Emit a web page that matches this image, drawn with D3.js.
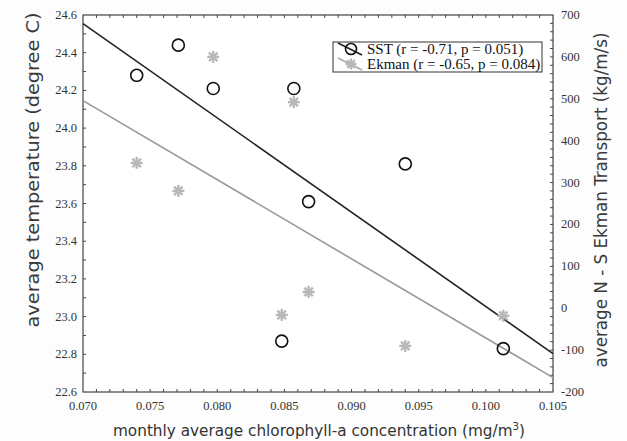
<!DOCTYPE html>
<html><head><meta charset="utf-8">
<script src="https://cdn.jsdelivr.net/npm/d3@7"></script>
<style>body{margin:0;background:#fff}svg{display:block}</style>
</head><body>
<svg id="chart" width="627" height="441"></svg>
<script>
// Data
const chl = [0.0740, 0.0771, 0.0797, 0.0857, 0.0848, 0.0868, 0.0940, 0.1013];
const sst = [24.28, 24.44, 24.21, 24.21, 22.87, 23.61, 23.81, 22.83];
const ekman = [347, 280, 600, 492, -16, 39, -90, -18];
const xTicks = [0.070, 0.075, 0.080, 0.085, 0.090, 0.095, 0.100, 0.105];
const yLeftTicks = [22.6, 22.8, 23.0, 23.2, 23.4, 23.6, 23.8, 24.0, 24.2, 24.4, 24.6];
const yRightTicks = [-200, -100, 0, 100, 200, 300, 400, 500, 600, 700];
const legendLabels = ["SST (r = -0.71, p = 0.051)", "Ekman (r = -0.65, p = 0.084)"];

const svg = d3.select("#chart");
const L = 83, R = 553, T = 15, B = 392;
const x = d3.scaleLinear().domain([0.070, 0.105]).range([L, R]);
const yL = d3.scaleLinear().domain([22.6, 24.6]).range([B, T]);
const yR = d3.scaleLinear().domain([-200, 700]).range([B, T]);

const frameCol = "#444", textCol = "#333";
const serif = "'Liberation Serif','Times New Roman',serif";
const sans = "'Liberation Sans Narrow','DejaVu Sans Condensed','Open Sans',sans-serif";

svg.append("rect").attr("width", 627).attr("height", 441).attr("fill", "#fdfdfd");
svg.append("rect").attr("x", L).attr("y", T).attr("width", R - L).attr("height", B - T)
  .attr("fill", "#fff").attr("stroke", frameCol).attr("stroke-width", 1.2);

// ticks
const g = svg.append("g").attr("stroke", frameCol).attr("stroke-width", 1);
const xMinor = d3.range(71, 105).map(v => v / 1000);
xMinor.forEach(v => {
  g.append("line").attr("x1", x(v)).attr("x2", x(v)).attr("y1", B).attr("y2", B - 3);
  g.append("line").attr("x1", x(v)).attr("x2", x(v)).attr("y1", T).attr("y2", T + 3);
});
const yLMinor = d3.range(227, 246).map(v => v / 10);
yLMinor.forEach(v => {
  g.append("line").attr("x1", L).attr("x2", L + 3).attr("y1", yL(v)).attr("y2", yL(v));
});
const yRMinor = d3.range(-180, 700, 20);
yRMinor.forEach(v => {
  g.append("line").attr("x1", R).attr("x2", R - 3).attr("y1", yR(v)).attr("y2", yR(v));
});

// tick labels
svg.append("g").selectAll("text").data(xTicks).join("text")
  .attr("x", d => x(d)).attr("y", 410).attr("text-anchor", "middle")
  .attr("font-family", serif).attr("font-size", 12.5).attr("fill", textCol)
  .text(d => d3.format(".3f")(d));
svg.append("g").selectAll("text").data(yLeftTicks).join("text")
  .attr("x", 77).attr("y", d => yL(d) + 4).attr("text-anchor", "end")
  .attr("font-family", serif).attr("font-size", 12.5).attr("fill", textCol)
  .text(d => d3.format(".1f")(d));
svg.append("g").selectAll("text").data(yRightTicks).join("text")
  .attr("x", 561).attr("y", d => yR(d) + 4).attr("text-anchor", "start")
  .attr("font-family", serif).attr("font-size", 12.5).attr("fill", textCol)
  .text(d => d);

// axis titles
const xt = svg.append("text").attr("x", 319).attr("y", 436).attr("text-anchor", "middle")
  .attr("font-family", sans).attr("font-size", 16.5).attr("fill", textCol)
  .attr("textLength", 412).attr("lengthAdjust", "spacingAndGlyphs");
xt.append("tspan").text("monthly average chlorophyll-a concentration (mg/m");
xt.append("tspan").attr("dy", -6).attr("font-size", 11).text("3");
xt.append("tspan").attr("dy", 6).text(")");
svg.append("text").attr("transform", `translate(39,170) rotate(-90)`)
  .attr("text-anchor", "middle").attr("font-family", sans).attr("font-size", 18).attr("fill", "#3a3a3a")
  .attr("textLength", 315).attr("lengthAdjust", "spacingAndGlyphs")
  .text("average temperature (degree C)");
svg.append("text").attr("transform", `translate(607,200) rotate(-90)`)
  .attr("text-anchor", "middle").attr("font-family", sans).attr("font-size", 18).attr("fill", "#3a3a3a")
  .attr("textLength", 335).attr("lengthAdjust", "spacingAndGlyphs")
  .text("average N - S Ekman Transport (kg/m/s)");

// regression
function fit(xs, ys) {
  const mx = d3.mean(xs), my = d3.mean(ys);
  const sxy = d3.sum(xs, (v, i) => (v - mx) * (ys[i] - my));
  const sxx = d3.sum(xs, v => (v - mx) ** 2);
  const b = sxy / sxx;
  return v => my + b * (v - mx);
}
const fS = fit(chl, sst), fE = fit(chl, ekman);
const plot = svg.append("g");
plot.append("line").attr("x1", x(0.070)).attr("x2", x(0.105))
  .attr("y1", yL(fS(0.070))).attr("y2", yL(fS(0.105))).attr("stroke", "#222").attr("stroke-width", 1.6);
plot.append("line").attr("x1", x(0.070)).attr("x2", x(0.105))
  .attr("y1", yR(fE(0.070))).attr("y2", yR(fE(0.105))).attr("stroke", "#999").attr("stroke-width", 1.6);

function star(sel, cx, cy, r, col) {
  const gg = sel.append("g").attr("stroke", col).attr("stroke-width", 2.4);
  [0, 45, 90, 135].forEach(a => {
    const rad = a * Math.PI / 180;
    gg.append("line").attr("x1", cx - r * Math.cos(rad)).attr("y1", cy - r * Math.sin(rad))
      .attr("x2", cx + r * Math.cos(rad)).attr("y2", cy + r * Math.sin(rad));
  });
}
// points
chl.forEach((v, i) => star(plot, x(v), yR(ekman[i]), 6, "#b8b8b8"));
plot.selectAll("circle.sst").data(chl).join("circle").attr("class", "sst")
  .attr("cx", d => x(d)).attr("cy", (d, i) => yL(sst[i])).attr("r", 6)
  .attr("fill", "none").attr("stroke", "#111").attr("stroke-width", 1.6);

// legend
const lg = svg.append("g");
lg.append("rect").attr("x", 333).attr("y", 42).attr("width", 209).attr("height", 30)
  .attr("fill", "#fff").attr("stroke", "#333").attr("stroke-width", 1);
lg.append("line").attr("x1", 338).attr("y1", 43).attr("x2", 362).attr("y2", 55).attr("stroke", "#222").attr("stroke-width", 1.6);
lg.append("circle").attr("cx", 351).attr("cy", 49).attr("r", 5.5).attr("fill", "none").attr("stroke", "#111").attr("stroke-width", 1.6);
lg.append("line").attr("x1", 338).attr("y1", 58).attr("x2", 362).attr("y2", 70).attr("stroke", "#aaa").attr("stroke-width", 1.6);
star(lg, 351, 64, 5.5, "#b8b8b8");
lg.selectAll("text").data(legendLabels).join("text")
  .attr("x", 367).attr("y", (d, i) => 54 + i * 14.5)
  .attr("font-family", serif).attr("font-size", 15).attr("fill", "#111").text(d => d);
</script>
</body></html>
